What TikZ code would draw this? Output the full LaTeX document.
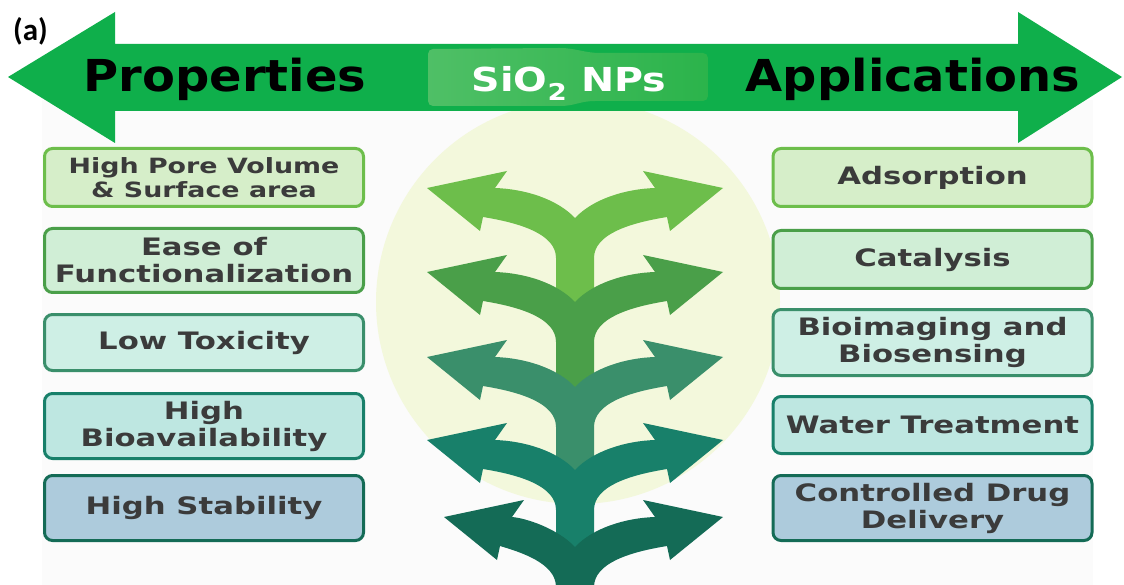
\documentclass[tikz,border=0pt]{standalone}
\usepackage{fontspec}
\newfontfamily\boxfont[FakeStretch=1.28]{DejaVu Sans}
\newfontfamily\headfont[FakeStretch=1.09]{DejaVu Sans}
\newfontfamily\ribbonfont[FakeStretch=1.2]{DejaVu Sans}
\newfontfamily\labelfont{Carlito}
\usepackage{tikz}
\usetikzlibrary{positioning, shapes.misc}

\definecolor{arrowgreen}{HTML}{0FAF4B}
\definecolor{circlefill}{HTML}{F3F8DC}
\definecolor{panelgray}{HTML}{FBFBFB}
\definecolor{boxtext}{HTML}{3B3B3B}
\definecolor{lvlone}{HTML}{6DBE4B}
\definecolor{lvltwo}{HTML}{4A9F49}
\definecolor{lvlthree}{HTML}{3A8F6B}
\definecolor{lvlfour}{HTML}{18806A}
\definecolor{lvlfive}{HTML}{146B56}
\definecolor{fillone}{HTML}{D6EEC9}
\definecolor{filltwo}{HTML}{D0EED6}
\definecolor{fillthree}{HTML}{CEEFE5}
\definecolor{fillfour}{HTML}{BEE7E1}
\definecolor{fillfive}{HTML}{ADCBDC}

\tikzset{
	defaultbox/.style={
			rectangle,
			rounded corners=8pt,
			line width=3pt,
			minimum width=319pt,
			inner sep=0pt,
			align=center,
			text=boxtext,
			font=\boxfont\bfseries\fontsize{24}{27}\selectfont
		},
	boxone/.style={defaultbox, draw=lvlone, fill=fillone},
	boxtwo/.style={defaultbox, draw=lvltwo, fill=filltwo},
	boxthree/.style={defaultbox, draw=lvlthree, fill=fillthree},
	boxfour/.style={defaultbox, draw=lvlfour, fill=fillfour},
	boxfive/.style={defaultbox, draw=lvlfive, fill=fillfive},
	headtext/.style={
			anchor=base,
			inner sep=0pt,
			font=\headfont\bfseries\fontsize{44}{48}\selectfont
		}
}

% one fork of the stem: #1 fork height, #2 colour, #3 stem length, #4 left arm cut
\newcommand{\forkarrow}[4]{%
	\begin{scope}[shift={(575,#1)}]
		\fill[#2] (0,0) .. controls (-18,-19) and (-50,-29) .. ({-80+#4},-30)
		-- ({-68+#4},-47) -- ({-148+#4},-30) -- ({-95+#4},13) -- ({-92+#4},-1)
		.. controls (-55,5) and (-19,16) .. (-19,40) -- (-19,#3)
		-- (19,#3) -- (19,40) .. controls (19,16) and (55,5) .. (92,-1)
		-- (95,13) -- (148,-30) -- (68,-47) -- (80,-30)
		.. controls (50,-29) and (18,-19) .. (0,0) -- cycle;
	\end{scope}%
}

\begin{document}
\begin{tikzpicture}[x=1pt, y=-1pt]
\useasboundingbox (0,0) rectangle (1124,585);
\fill[white] (0,0) rectangle (1124,585);
\fill[panelgray] (42,100) rectangle (1093,585);
\fill[circlefill] (578,302) circle (202);

\fill[arrowgreen] (8,77) -- (115,12) -- (115,44) -- (1018,44) -- (1018,12)
  -- (1122,77) -- (1018,143) -- (1018,111) -- (115,111) -- (115,143) -- cycle;
\shade[rounded corners=5pt, left color=arrowgreen!65!lvlone!85!white,
  middle color=lvlone!70!yellow!85!white, right color=arrowgreen!70!lvlone]
  (428,49) -- (555,48) .. controls (575,48) and (585,53) .. (605,53) -- (708,53)
  -- (708,101) -- (600,101) .. controls (580,101) and (575,106) .. (555,106)
  -- (428,106) -- cycle;

\node[inner sep=0pt, font=\labelfont\bfseries\fontsize{31}{34}\selectfont] (fig) at (30.5,31) {(a)};
\node[headtext] (props) at (225,92) {Properties};
\node[headtext] (apps) at (913,92) {Applications};
\node[anchor=base, inner sep=0pt, text=white,
  font=\ribbonfont\bfseries\fontsize{33}{36}\selectfont] (sio) at (569,92) {SiO\textsubscript{2} NPs};

\forkarrow{218}{lvlone}{104}{0}
\forkarrow{302}{lvltwo}{105}{0}
\forkarrow{387}{lvlthree}{103}{0}
\forkarrow{470}{lvlfour}{97}{0}
\forkarrow{547}{lvlfive}{40}{17}

\node[boxone, minimum height=58pt, font=\boxfont\bfseries\fontsize{21}{24}\selectfont] (pPore) at (204,177.5) {High Pore Volume\\\& Surface area};
\node[boxtwo, minimum height=64pt] (pFunc) at (204,260.5) {Ease of\\Functionalization};
\node[boxthree, minimum height=56pt] (pTox) at (204,342.5) {Low Toxicity};
\node[boxfour, minimum height=65pt] (pBio) at (204,426) {High\\Bioavailability};
\node[boxfive, minimum height=65pt] (pStab) at (204,508) {High Stability};

\node[boxone, minimum height=58pt] (aAds) at (932.5,177.5) {Adsorption};
\node[boxtwo, minimum height=58pt] (aCat) at (932.5,259.5) {Catalysis};
\node[boxthree, minimum height=66pt] (aImg) at (932.5,342.5) {Bioimaging and\\Biosensing};
\node[boxfour, minimum height=57pt] (aWater) at (932.5,425) {Water Treatment};
\node[boxfive, minimum height=65pt] (aDrug) at (932.5,508) {Controlled Drug\\Delivery};

\end{tikzpicture}
\end{document}
